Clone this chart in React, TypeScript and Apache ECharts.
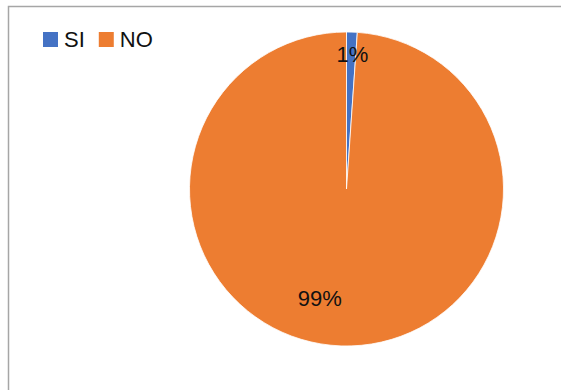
import React, { useEffect, useRef } from "react";
import * as echarts from "echarts";

const categories = ["SI", "NO"];
const values = [1.1, 98.9];
const colors = ["#4472C4", "#ED7D31"];
const labelShift = [
  { dx: 3, dy: -53 },
  { dx: -24, dy: 28 },
];

export default function App() {
  const ref = useRef<HTMLDivElement>(null);
  useEffect(() => {
    document.body.style.margin = "0";
    const chart = echarts.init(ref.current!, null, { renderer: "svg" });
    chart.setOption({
      animation: false,
      backgroundColor: "#ffffff",
      graphic: [
        {
          type: "rect",
          shape: { x: 8.5, y: 6.5, width: 600, height: 400 },
          style: { fill: "none", stroke: "#a6a6a6", lineWidth: 1.5 },
          silent: true,
          z: -1,
        },
      ],
      legend: {
        left: 43,
        top: 28.5,
        itemWidth: 15,
        itemHeight: 15,
        itemGap: 14,
        icon: "rect",
        padding: 0,
        itemStyle: { borderWidth: 0 },
        data: categories,
        textStyle: {
          fontFamily: "Liberation Sans",
          fontSize: 22,
          lineHeight: 22,
          color: "#111",
          padding: [0, 0, 0, 1],
        },
      },
      series: [
        {
          type: "pie",
          center: [346.5, 189],
          radius: 157,
          startAngle: 90,
          clockwise: true,
          color: colors,
          itemStyle: { borderColor: "#ffffff", borderWidth: 0.8 },
          label: {
            show: true,
            position: "inside",
            formatter: (p: any) => Math.round(p.percent) + "%",
            fontFamily: "Liberation Sans",
            fontSize: 22,
            color: "#111",
          },
          labelLine: { show: false },
          labelLayout: (p: any) => labelShift[p.dataIndex],
          emphasis: { disabled: true },
          data: categories.map((c, i) => ({ name: c, value: values[i] })),
        },
      ],
    });
    return () => chart.dispose();
  }, []);
  return <div ref={ref} style={{ width: 561, height: 390 }} />;
}
